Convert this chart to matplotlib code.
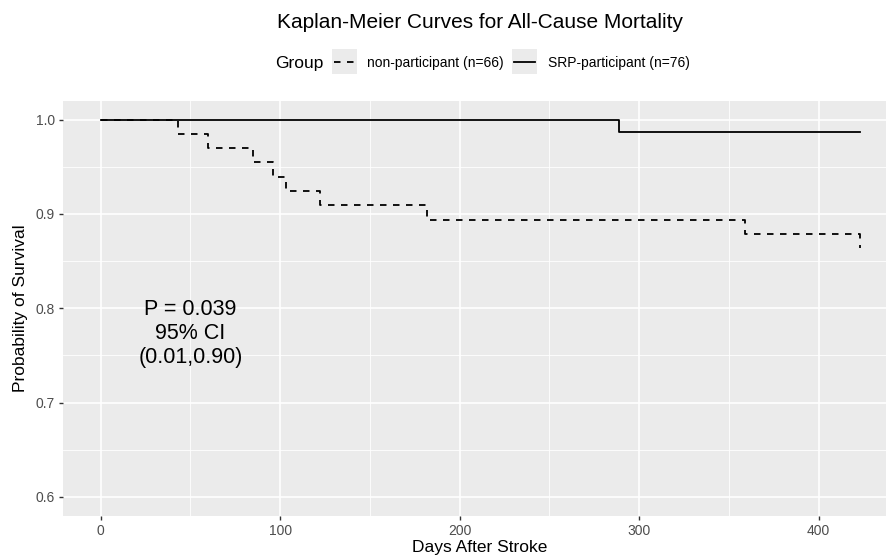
import matplotlib
matplotlib.use("Agg")
import matplotlib.pyplot as plt
from matplotlib.patches import Rectangle
from matplotlib.lines import Line2D

plt.rcParams['font.family'] = ['Liberation Sans', 'DejaVu Sans']

# ---- data ----
non_days = [0, 43, 60, 85, 96, 103, 122, 182, 359, 423]
non_surv = [1.0, 0.985, 0.970, 0.955, 0.939, 0.924, 0.909, 0.894, 0.879, 0.864]
srp_days = [0, 289, 423]
srp_surv = [1.0, 0.987, 0.987]
group_labels = ["non-participant (n=66)", "SRP-participant (n=76)"]
xticks = [0, 100, 200, 300, 400]
yticks = [0.6, 0.7, 0.8, 0.9, 1.0]
annot = "P = 0.039\n95% CI\n(0.01,0.90)"

W, H = 887, 556
fig = plt.figure(figsize=(W / 100, H / 100), dpi=100)

def fx(px):
    return px / W

def fy(py):
    return 1 - py / H

left, right, top, bottom = 62.7, 898.0, 100.7, 515.7
ax = fig.add_axes([fx(left), fy(bottom), fx(right - left), (bottom - top) / H])
ax.set_facecolor('#EBEBEB')
for s in ax.spines.values():
    s.set_visible(False)

ax.set_xlim(-21.15, 444.15)
ax.set_ylim(0.58, 1.02)
ax.set_xticks(xticks)
ax.set_yticks(yticks)
ax.set_xticks([50, 150, 250, 350], minor=True)
ax.set_yticks([0.65, 0.75, 0.85, 0.95], minor=True)
ax.set_yticklabels([f"{v:.1f}" for v in yticks])
ax.grid(True, which='major', color='white', lw=1.2)
ax.grid(True, which='minor', color='white', lw=0.6)
ax.set_axisbelow(True)
ax.tick_params(which='major', length=3.2, width=1.0, color='#333333',
               labelcolor='#4D4D4D', labelsize=10, pad=2.5)
ax.tick_params(which='minor', length=0)

ax.step(non_days, non_surv, where='post', color='black', lw=1.3,
        dashes=(3.6, 3.6), zorder=3)
ax.step(srp_days, srp_surv, where='post', color='black', lw=1.3, zorder=4)

ax.text(50, 0.773, annot, ha='center', va='center', fontsize=15.5,
        linespacing=1.17, color='black')

fig.text(fx(21), fy(308), "Probability of Survival", rotation=90,
         ha='center', va='center', fontsize=12.5, color='black')
fig.text(fx(480), fy(552), "Days After Stroke", ha='center', va='baseline',
         fontsize=12.5, color='black')
fig.text(fx(480), fy(28), "Kaplan-Meier Curves for All-Cause Mortality",
         ha='center', va='baseline', fontsize=15, color='black')

# legend
fig.text(fx(275), fy(68), "Group", ha='left', va='baseline', fontsize=12.5)
keys = [(332, 367, (3.6, 3.6)), (512, 548, None)]
for (kx, tx, dash), lab in zip(keys, group_labels):
    fig.patches.append(Rectangle((fx(kx), fy(74)), fx(25), 25 / H,
                                 transform=fig.transFigure,
                                 facecolor='#EBEBEB', edgecolor='none'))
    ln = Line2D([fx(kx + 2), fx(kx + 23)], [fy(61.5), fy(61.5)],
                transform=fig.transFigure, color='black', lw=1.3)
    if dash:
        ln.set_dashes(dash)
    fig.lines.append(ln)
    fig.text(fx(tx), fy(66.5), lab, ha='left', va='baseline', fontsize=10)

fig.savefig("out.png", dpi=100, facecolor='white')
